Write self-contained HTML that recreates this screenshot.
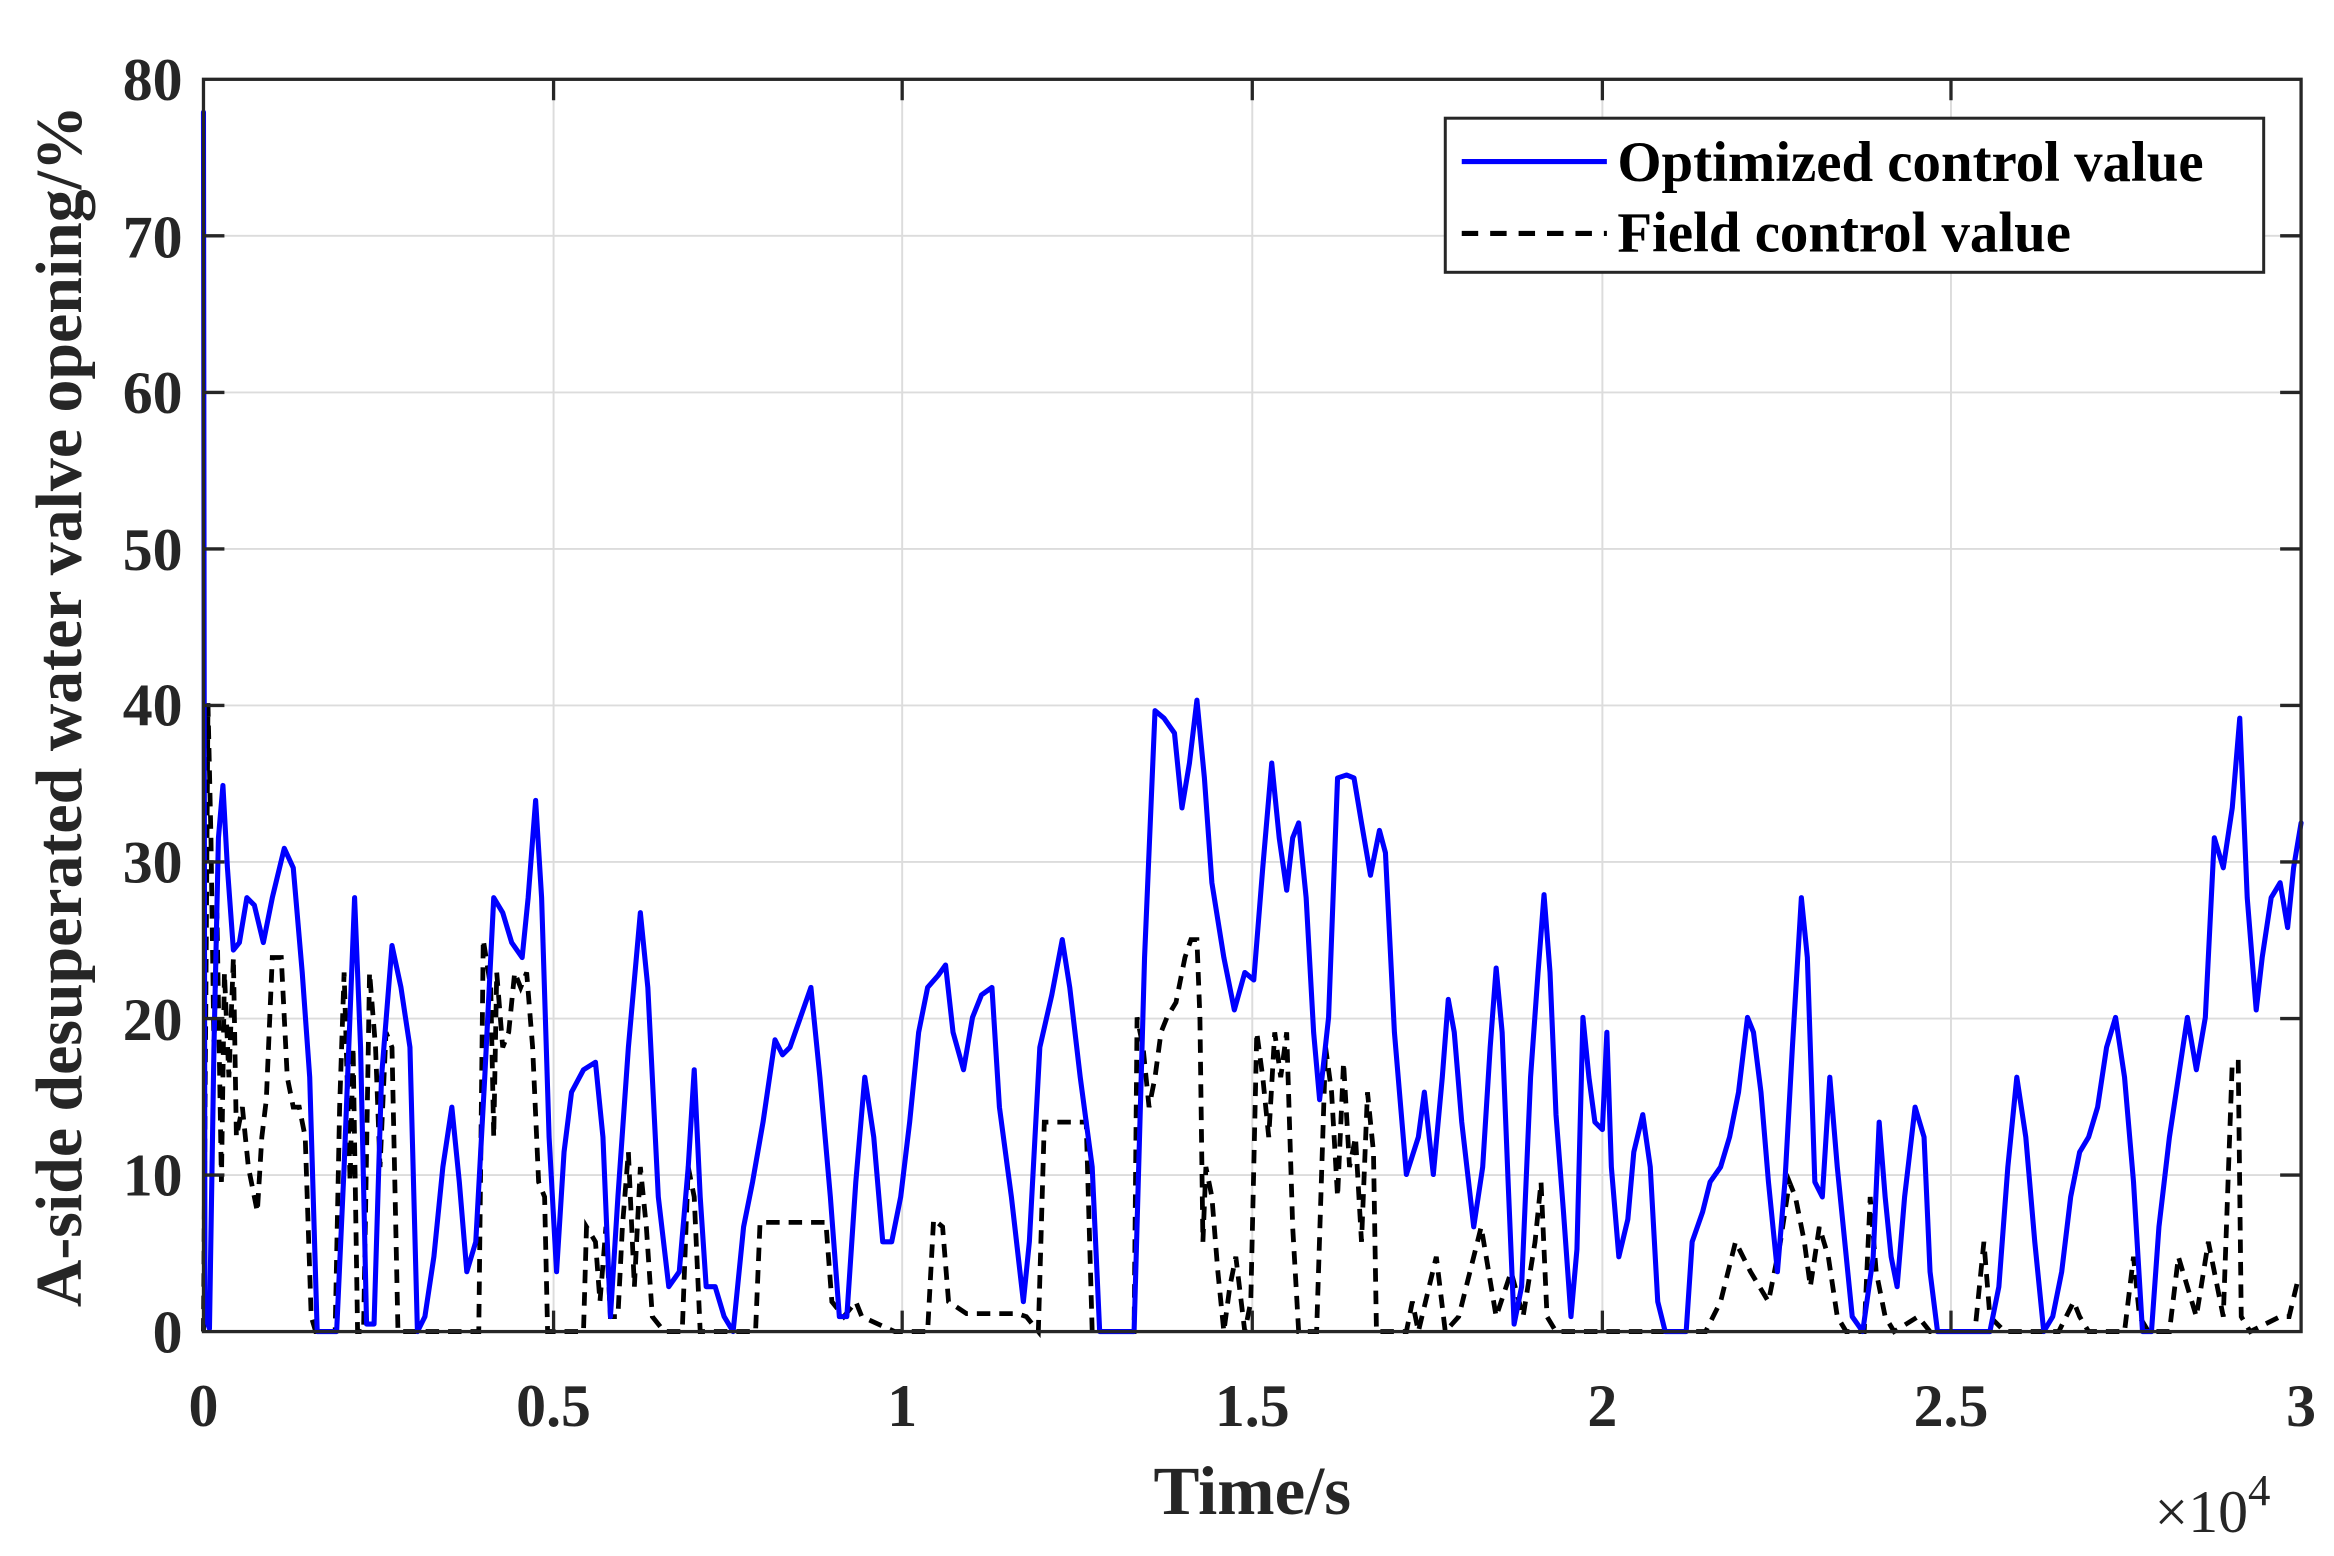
<!DOCTYPE html>
<html><head><meta charset="utf-8"><style>html,body{margin:0;padding:0;background:#fff}svg{display:block}</style></head>
<body>
<svg width="2334" height="1556" viewBox="0 0 1560 1040" xmlns="http://www.w3.org/2000/svg" font-family="Liberation Serif, serif" font-weight="bold" fill="#262626">
<rect width="1560" height="1040" fill="#fff"/>
<g stroke="#dcdcdc" stroke-width="1.3">
<line x1="370" y1="53" x2="370" y2="890"/><line x1="603" y1="53" x2="603" y2="890"/><line x1="837" y1="53" x2="837" y2="890"/><line x1="1071" y1="53" x2="1071" y2="890"/><line x1="1304" y1="53" x2="1304" y2="890"/>
<line x1="136" y1="157.6" x2="1538" y2="157.6"/><line x1="136" y1="262.3" x2="1538" y2="262.3"/><line x1="136" y1="366.9" x2="1538" y2="366.9"/><line x1="136" y1="471.5" x2="1538" y2="471.5"/><line x1="136" y1="576.1" x2="1538" y2="576.1"/><line x1="136" y1="680.8" x2="1538" y2="680.8"/><line x1="136" y1="785.4" x2="1538" y2="785.4"/>
</g>
<polyline fill="none" stroke="#000" stroke-width="3.2" stroke-dasharray="9,6" points="136,890 139,470 141,560 143,700 145,610 148,790 150,650 153,720 156,640 158,760 162,740 166,780 170,800 172,810 175,760 178,735 182,640 184,640 188,640 192,720 196,740 200,740 204,760 208,880 211,890 224,890 227,740 230,650 234,790 236,700 239,890 243,890 247,650 251,700 254,780 258,690 262,700 266,890 290,890 316,890 320,890 323,628 328,660 330,760 332,650 336,700 340,690 344,650 348,660 352,650 356,700 360,790 364,800 366,890 385,890 390,890 392,820 398,830 401,870 405,820 408,880 413,880 416,820 420,770 424,860 428,780 432,820 436,880 444,890 456,890 460,780 464,800 468,890 497,890 505,890 508,817 552,817 556,870 564,880 572,870 576,880 598,890 620,890 624,815 630,820 634,870 646,878 680,878 686,880 694,890 698,750 726,750 730,890 758,890 760,680 764,700 768,740 772,720 776,690 780,680 786,670 792,640 796,628 800,628 802,680 804,830 806,780 810,800 814,850 818,890 822,860 826,840 832,890 836,870 840,690 844,720 848,760 852,690 856,720 860,690 864,820 868,890 880,890 886,700 890,730 894,800 898,710 902,780 906,760 910,830 914,730 918,770 920,890 940,890 944,870 948,890 960,840 966,890 975,880 990,820 1000,880 1010,850 1018,880 1026,830 1030,790 1034,880 1040,890 1055,890 1070,890 1098,890 1140,890 1150,870 1160,830 1170,850 1182,870 1190,830 1196,790 1200,800 1206,830 1210,860 1216,820 1222,840 1228,880 1234,890 1246,890 1250,800 1254,850 1260,880 1266,890 1282,880 1290,890 1320,890 1326,830 1330,880 1340,890 1360,890 1376,890 1386,870 1390,880 1396,890 1420,890 1426,840 1430,880 1436,890 1450,890 1456,840 1462,860 1468,880 1476,830 1480,850 1486,880 1492,710 1496,710 1498,880 1504,890 1524,880 1530,880 1536,855 1538,855"/>
<polyline fill="none" stroke="#0000ff" stroke-width="3.4" stroke-linejoin="round" stroke-linecap="round" points="136,75 137,880 140,888 143,700 146,560 149,525 152,580 156,635 160,630 165,600 170,605 176,630 182,600 190,567 196,580 202,650 207,720 212,890 225,890 230,780 237,600 241,700 245,885 250,885 255,720 262,632 268,660 274,700 279,890 284,880 290,840 296,780 302,740 307,790 312,850 318,830 324,720 330,600 336,610 342,630 349,640 353,600 358,535 362,600 367,760 372,850 377,770 382,730 390,715 398,710 403,760 408,880 413,800 420,700 428,610 433,660 440,800 447,860 454,850 460,780 464,715 468,800 472,860 478,860 484,880 490,890 497,820 503,790 510,750 518,695 523,705 528,700 535,680 542,660 548,720 555,800 561,880 566,880 572,790 578,720 584,760 590,830 596,830 602,800 608,750 614,690 620,660 627,652 632,645 637,690 644,715 650,680 656,665 663,660 668,740 676,800 684,870 688,830 695,700 703,665 710,628 715,660 722,720 730,780 735,890 758,890 765,640 772,475 778,480 785,490 790,540 795,510 800,468 805,520 810,590 818,640 825,675 832,650 838,655 844,580 850,510 855,560 860,595 864,560 868,550 873,600 878,690 882,735 888,680 894,520 900,518 905,520 910,550 916,585 922,555 926,570 932,690 940,785 948,760 952,730 958,785 964,720 968,668 972,690 977,750 985,820 991,780 996,700 1000,647 1004,690 1008,790 1012,885 1017,860 1023,720 1028,650 1032,598 1036,650 1040,745 1045,810 1050,880 1054,835 1058,680 1062,720 1066,750 1071,755 1074,690 1077,780 1082,840 1088,815 1092,770 1098,745 1103,780 1108,870 1113,890 1127,890 1131,830 1138,810 1143,790 1150,780 1156,760 1162,730 1168,680 1172,690 1177,730 1182,790 1188,850 1193,790 1198,700 1204,600 1208,640 1213,790 1218,800 1223,720 1228,780 1233,830 1238,880 1245,890 1252,840 1256,750 1260,800 1264,840 1268,860 1273,800 1280,740 1286,760 1290,850 1295,890 1330,890 1336,860 1342,780 1348,720 1354,760 1360,830 1366,890 1372,880 1378,850 1384,800 1390,770 1396,760 1402,740 1408,700 1414,680 1420,720 1426,790 1432,890 1438,890 1443,820 1450,760 1456,720 1462,680 1468,715 1474,680 1480,560 1486,580 1492,540 1497,480 1502,600 1508,675 1512,640 1518,600 1524,590 1529,620 1533,580 1538,550"/>
<rect x="136" y="53" width="1402" height="837" fill="none" stroke="#262626" stroke-width="2.2"/>
<g stroke="#262626" stroke-width="2.2">
<path d="M370 890v-14M603 890v-14M837 890v-14M1071 890v-14M1304 890v-14M370 53v14M603 53v14M837 53v14M1071 53v14M1304 53v14"/>
<path d="M136 157.6h14M136 262.3h14M136 366.9h14M136 471.5h14M136 576.1h14M136 680.8h14M136 785.4h14M1538 157.6h-14M1538 262.3h-14M1538 366.9h-14M1538 471.5h-14M1538 576.1h-14M1538 680.8h-14M1538 785.4h-14"/>
</g>
<g font-size="40" text-anchor="end">
<text x="122" y="904">0</text><text x="122" y="799">10</text><text x="122" y="695">20</text><text x="122" y="590">30</text><text x="122" y="485">40</text><text x="122" y="381">50</text><text x="122" y="276">60</text><text x="122" y="172">70</text><text x="122" y="67">80</text>
</g>
<g font-size="40" text-anchor="middle">
<text x="136" y="953">0</text><text x="370" y="953">0.5</text><text x="603" y="953">1</text><text x="837" y="953">1.5</text><text x="1071" y="953">2</text><text x="1304" y="953">2.5</text><text x="1538" y="953">3</text>
</g>
<text x="837" y="1012" font-size="46" text-anchor="middle">Time/s</text>
<text x="1440" y="1024" font-size="40" font-weight="normal">×10<tspan font-size="30" dy="-18">4</tspan></text>
<text transform="translate(54,472) rotate(-90)" font-size="44" text-anchor="middle">A-side desuperated water valve opening/%</text>
<rect x="966" y="79" width="547" height="103" fill="#fff" stroke="#262626" stroke-width="2"/>
<line x1="977" y1="108" x2="1074" y2="108" stroke="#0000ff" stroke-width="3.4"/>
<line x1="977" y1="156" x2="1074" y2="156" stroke="#000" stroke-width="3.4" stroke-dasharray="11,8"/>
<g font-size="38" fill="#000">
<text x="1081" y="121">Optimized control value</text>
<text x="1081" y="168">Field control value</text>
</g>
</svg>
</body></html>
